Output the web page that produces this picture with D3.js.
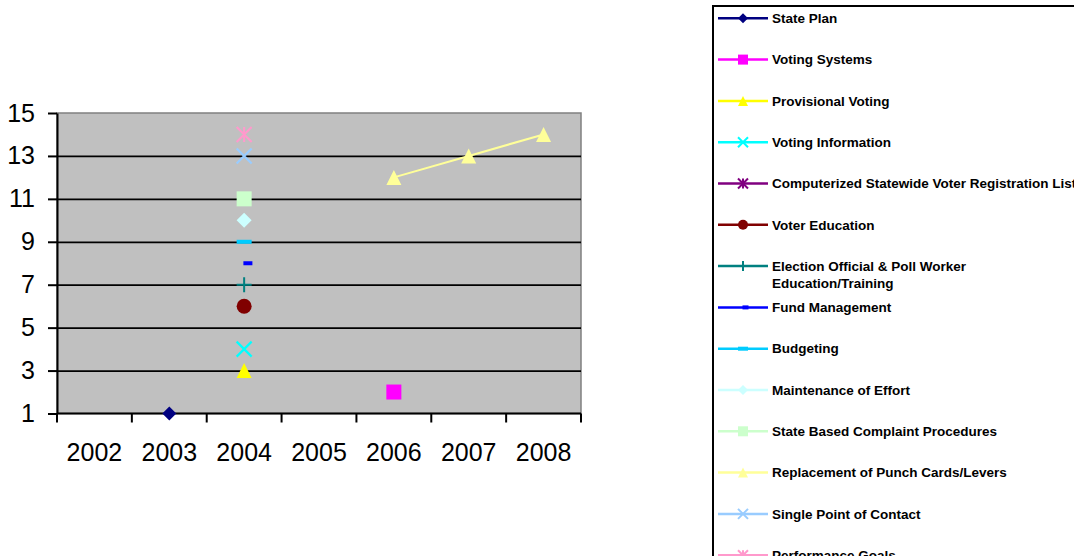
<!DOCTYPE html>
<html>
<head>
<meta charset="utf-8">
<script src="https://cdn.jsdelivr.net/npm/d3@7"></script>
<style>
  body { margin: 0; background: #fff; }
  svg { font-family: Arial, "Liberation Sans", sans-serif; display: block; }
</style>
</head>
<body>
<div id="chart"></div>
<script>
// categories and ticks
const years = ["2002", "2003", "2004", "2005", "2006", "2007", "2008"];
const yTicks = [1, 3, 5, 7, 9, 11, 13, 15];

// one array per series (null = no point)
const statePlan = [null, 1, null, null, null, null, null];
const votingSystems = [null, null, null, null, 2, null, null];
const provisionalVoting = [null, null, 3, null, null, null, null];
const votingInformation = [null, null, 4, null, null, null, null];
const computerizedList = [null, null, null, null, null, null, null];
const voterEducation = [null, null, 6, null, null, null, null];
const electionOfficial = [null, null, 7, null, null, null, null];
const fundManagement = [null, null, 8, null, null, null, null];
const budgeting = [null, null, 9, null, null, null, null];
const maintenanceEffort = [null, null, 10, null, null, null, null];
const complaintProcedures = [null, null, 11, null, null, null, null];
const punchCards = [null, null, null, null, 12, 13, 14];
const singlePoint = [null, null, 13, null, null, null, null];
const performanceGoals = [null, null, 14, null, null, null, null];

const seriesNames = [
  "State Plan", "Voting Systems", "Provisional Voting", "Voting Information",
  "Computerized Statewide Voter Registration List", "Voter Education",
  "Election Official & Poll Worker Education/Training", "Fund Management",
  "Budgeting", "Maintenance of Effort", "State Based Complaint Procedures",
  "Replacement of Punch Cards/Levers", "Single Point of Contact", "Performance Goals"
];
const seriesValues = [
  statePlan, votingSystems, provisionalVoting, votingInformation, computerizedList,
  voterEducation, electionOfficial, fundManagement, budgeting, maintenanceEffort,
  complaintProcedures, punchCards, singlePoint, performanceGoals
];
const seriesColors = [
  "#000080", "#ff00ff", "#ffff00", "#00ffff", "#800080", "#800000", "#008080",
  "#0000ff", "#00ccff", "#ccffff", "#ccffcc", "#ffff99", "#99ccff", "#ff99cc"
];
const seriesMarkers = [
  "diamond", "square", "triangle", "x", "star", "circle", "plus",
  "shortdash", "dash", "diamond", "square", "triangle", "x", "star"
];

const series = seriesNames.map((name, i) => ({
  name: name,
  color: seriesColors[i],
  marker: seriesMarkers[i],
  values: years.map((yr, j) => ({ year: yr, value: seriesValues[i][j] }))
}));

const W = 1074, H = 556;
const plot = { left: 57, right: 581, top: 113, bottom: 413.5 };

const svg = d3.select("#chart").append("svg")
  .attr("width", W)
  .attr("height", H);

const x = d3.scaleBand().domain(years).range([plot.left, plot.right]).padding(0);
const y = d3.scaleLinear().domain([1, 15]).range([plot.bottom, plot.top]);

// plot area
svg.append("rect")
  .attr("x", plot.left)
  .attr("y", plot.top)
  .attr("width", plot.right - plot.left)
  .attr("height", plot.bottom - plot.top)
  .attr("fill", "#c0c0c0")
  .attr("stroke", "#808080")
  .attr("stroke-width", 1.5);

// gridlines
svg.append("g")
  .attr("transform", "translate(" + plot.left + ",0)")
  .call(d3.axisLeft(y).tickValues(yTicks.filter(d => d > 1 && d < 15)).tickSize(-(plot.right - plot.left)).tickFormat(""))
  .call(g => g.select(".domain").remove())
  .selectAll("line")
  .attr("stroke", "#000")
  .attr("stroke-width", 1.8);

// y axis
const yAxis = svg.append("g")
  .attr("transform", "translate(" + plot.left + ",0)")
  .call(d3.axisLeft(y).tickValues(yTicks).tickSize(9).tickPadding(13).tickSizeOuter(0));
yAxis.select(".domain").attr("stroke", "#000").attr("stroke-width", 2);
yAxis.selectAll("line").attr("stroke", "#000").attr("stroke-width", 2);
yAxis.selectAll("text").style("font-size", "25px").attr("fill", "#000");

// x axis: labels at centres, ticks between categories
const xAxis = svg.append("g")
  .attr("transform", "translate(0," + plot.bottom + ")")
  .call(d3.axisBottom(x).tickSize(0).tickPadding(30));
xAxis.select(".domain").attr("stroke", "#000").attr("stroke-width", 2)
  .attr("d", "M" + plot.left + ",0H" + plot.right);
xAxis.selectAll("text").style("font-size", "25px").attr("fill", "#000");

const boundaries = years.map(d => x(d)).concat([x(years[years.length - 1]) + x.bandwidth()]);
xAxis.selectAll(".sep")
  .data(boundaries)
  .enter()
  .append("line")
  .attr("class", "sep")
  .attr("x1", d => d)
  .attr("x2", d => d)
  .attr("y1", 0)
  .attr("y2", 9)
  .attr("stroke", "#000")
  .attr("stroke-width", 2);

// marker drawing
function drawMarker(g, type, color, s) {
  if (type === "diamond") {
    g.append("path").attr("d", "M0," + -s + "L" + s + ",0L0," + s + "L" + -s + ",0Z").attr("fill", color);
  } else if (type === "square") {
    g.append("rect").attr("x", -s).attr("y", -s).attr("width", 2 * s).attr("height", 2 * s).attr("fill", color);
  } else if (type === "triangle") {
    g.append("path").attr("d", "M0," + -s + "L" + s + "," + s + "L" + -s + "," + s + "Z").attr("fill", color);
  } else if (type === "circle") {
    g.append("circle").attr("r", s).attr("fill", color);
  } else if (type === "x") {
    g.append("path").attr("d", "M" + -s + "," + -s + "L" + s + "," + s + "M" + s + "," + -s + "L" + -s + "," + s)
      .attr("stroke", color).attr("stroke-width", s > 6 ? 2.2 : 2).attr("fill", "none");
  } else if (type === "star") {
    g.append("path").attr("d", "M" + -s + "," + -s + "L" + s + "," + s + "M" + s + "," + -s + "L" + -s + "," + s + "M0," + -s + "V" + s)
      .attr("stroke", color).attr("stroke-width", 2).attr("fill", "none");
  } else if (type === "plus") {
    g.append("path").attr("d", "M" + -s + ",0H" + s + "M0," + -s + "V" + s)
      .attr("stroke", color).attr("stroke-width", 2).attr("fill", "none");
  } else if (type === "dash") {
    g.append("rect").attr("x", -s).attr("y", -2).attr("width", 2 * s).attr("height", 4).attr("fill", color);
  } else if (type === "shortdash") {
    g.append("rect").attr("x", -s * 0.1).attr("y", -2).attr("width", s * 1.2).attr("height", 4).attr("fill", color);
  }
}

// series lines and points
const line = d3.line()
  .defined(d => d.value !== null)
  .x(d => x(d.year) + x.bandwidth() / 2)
  .y(d => y(d.value));

series.forEach(s => {
  const pts = s.values.filter(d => d.value !== null);
  if (pts.length > 1) {
    svg.append("path")
      .datum(s.values)
      .attr("fill", "none")
      .attr("stroke", s.color)
      .attr("stroke-width", 2)
      .attr("d", line);
  }
  pts.forEach(d => {
    const g = svg.append("g")
      .attr("transform", "translate(" + (x(d.year) + x.bandwidth() / 2) + "," + y(d.value) + ")");
    drawMarker(g, s.marker, s.color, s.marker === "diamond" && s.color === "#000080" ? 7 : 7.5);
  });
});

// legend
const legend = svg.append("g");
legend.append("rect")
  .attr("x", 713)
  .attr("y", 6)
  .attr("width", 400)
  .attr("height", 600)
  .attr("fill", "#fff")
  .attr("stroke", "#000")
  .attr("stroke-width", 2);

const legendY = d3.scaleLinear().domain([0, 1]).range([18.3, 59.6]);

series.forEach((s, i) => {
  const g = legend.append("g").attr("transform", "translate(0," + legendY(i) + ")");
  g.append("line")
    .attr("x1", 718).attr("x2", 768)
    .attr("y1", 0).attr("y2", 0)
    .attr("stroke", s.color)
    .attr("stroke-width", 2.5);
  const m = g.append("g").attr("transform", "translate(743,0)");
  drawMarker(m, s.marker, s.color, 5);
  const t = g.append("text")
    .attr("x", 772)
    .attr("y", 0)
    .attr("dy", "0.35em")
    .style("font-size", "13.5px")
    .style("font-weight", "bold")
    .attr("fill", "#000");
  if (s.name.indexOf("Election Official") === 0) {
    t.append("tspan").attr("x", 772).text("Election Official & Poll Worker");
    t.append("tspan").attr("x", 772).attr("dy", "1.25em").text("Education/Training");
  } else {
    t.text(s.name);
  }
});
</script>
</body>
</html>
